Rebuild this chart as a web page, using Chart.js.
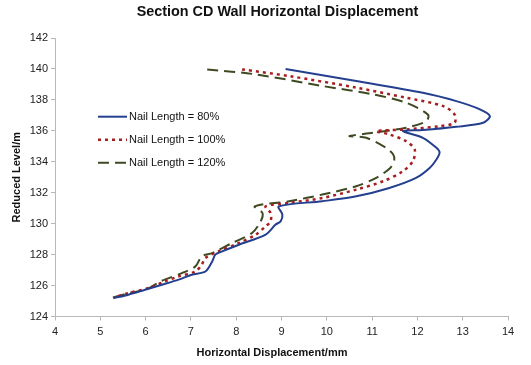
<!DOCTYPE html>
<html>
<head>
<meta charset="utf-8">
<script src="https://cdn.jsdelivr.net/npm/chart.js@4/dist/chart.umd.min.js"></script>
<style>
  html, body { margin: 0; padding: 0; background: #fff; }
  #wrap { width: 531px; height: 365px; }
</style>
</head>
<body>
<div id="wrap"><canvas id="c" width="531" height="365"></canvas></div>
<script>
// Wall displacement profiles (displacement in mm vs reduced level in m)
const seriesLabels = ['Nail Length = 80%', 'Nail Length = 100%', 'Nail Length = 120%'];

const disp80 = [9.09, 10.65, 12.12, 12.86, 13.38, 13.60, 13.45, 12.86, 12.12, 11.68, 12.12, 12.42, 12.49, 12.42, 12.27, 11.97, 11.38, 10.65, 9.90, 8.94, 9.02, 8.98, 8.87, 8.65, 8.06, 7.69, 7.54, 7.47, 7.32, 7.02, 6.73, 6.36, 5.99, 5.62, 5.30];
const level80 = [140.0, 139.22, 138.46, 137.92, 137.39, 136.95, 136.52, 136.26, 136.05, 135.98, 135.55, 134.9, 134.6, 134.15, 133.6, 132.96, 132.31, 131.77, 131.45, 131.12, 130.59, 130.15, 129.94, 129.29, 128.64, 128.21, 128.0, 127.56, 126.91, 126.70, 126.38, 126.05, 125.73, 125.41, 125.19];

const disp100 = [8.13, 9.17, 10.65, 11.75, 12.57, 12.82, 12.82, 12.49, 11.75, 11.09, 11.38, 11.75, 11.94, 11.90, 11.68, 11.24, 10.65, 9.90, 9.17, 8.65, 8.76, 8.76, 8.65, 8.43, 8.06, 7.61, 7.32, 7.24, 7.10, 6.73, 6.43, 6.06, 5.62, 5.28];
const level100 = [139.97, 139.54, 138.79, 138.14, 137.6, 137.06, 136.52, 136.3, 136.09, 135.98, 135.77, 135.33, 134.8, 134.04, 133.39, 132.74, 132.2, 131.66, 131.34, 131.12, 130.69, 130.15, 129.83, 129.29, 128.75, 128.21, 127.78, 127.35, 126.91, 126.59, 126.27, 125.84, 125.51, 125.21];

const disp120 = [7.36, 8.43, 9.90, 11.01, 11.75, 12.23, 12.20, 11.75, 11.01, 10.50, 10.87, 11.31, 11.46, 11.49, 11.40, 11.09, 10.65, 9.90, 9.17, 8.41, 8.58, 8.54, 8.35, 7.91, 7.47, 7.24, 7.10, 6.80, 6.36, 5.99, 5.62, 5.24];
const level120 = [139.97, 139.65, 138.90, 138.36, 137.82, 137.06, 136.63, 136.2, 135.87, 135.66, 135.55, 134.9, 134.5, 134.1, 133.6, 132.96, 132.42, 131.88, 131.45, 131.12, 130.69, 130.15, 129.4, 128.75, 128.1, 127.89, 127.24, 126.8, 126.31, 125.73, 125.51, 125.19];

const xTicks = [4, 5, 6, 7, 8, 9, 10, 11, 12, 13, 14];
const yTicks = [124, 126, 128, 130, 132, 134, 136, 138, 140, 142];

const FONT = '"Liberation Sans", Arial, Helvetica, sans-serif';

function toPoints(xs, ys) {
  return xs.map((x, i) => ({ x: x, y: ys[i] }));
}

// Chart title, x-axis caption and the inset legend
const captions = {
  id: 'captions',
  afterDraw(chart) {
    const ctx = chart.ctx;
    ctx.save();
    ctx.fillStyle = '#111';
    ctx.textAlign = 'center';
    ctx.textBaseline = 'middle';
    ctx.font = 'bold 14.4px ' + FONT;
    ctx.fillText('Section CD Wall Horizontal Displacement', 277.5, 12.5);
    ctx.font = 'bold 11px ' + FONT;
    ctx.fillText('Horizontal Displacement/mm', 272, 353);

    ctx.textAlign = 'left';
    ctx.font = '11px ' + FONT;
    chart.data.datasets.forEach((ds, i) => {
      const y = 116.7 + i * 23;
      ctx.save();
      ctx.strokeStyle = ds.borderColor;
      ctx.lineWidth = ds.borderWidth;
      ctx.setLineDash(ds.borderDash || []);
      ctx.beginPath();
      ctx.moveTo(98, y);
      ctx.lineTo(127, y);
      ctx.stroke();
      ctx.restore();
      ctx.fillStyle = '#111';
      ctx.fillText(ds.label, 129, y + 0.5);
    });
    ctx.restore();
  }
};

new Chart(document.getElementById('c'), {
  type: 'scatter',
  data: {
    datasets: [
      {
        label: seriesLabels[0],
        data: toPoints(disp80, level80),
        showLine: true,
        borderColor: '#233F8E',
        borderWidth: 2,
        pointRadius: 0,
        tension: 0.3
      },
      {
        label: seriesLabels[1],
        data: toPoints(disp100, level100),
        showLine: true,
        borderColor: '#A81E1E',
        borderWidth: 2.5,
        borderDash: [3, 4],
        pointRadius: 0,
        tension: 0.3
      },
      {
        label: seriesLabels[2],
        data: toPoints(disp120, level120),
        showLine: true,
        borderColor: '#3E4A22',
        borderWidth: 2,
        borderDash: [11, 6],
        pointRadius: 0,
        tension: 0.3
      }
    ]
  },
  options: {
    responsive: false,
    animation: false,
    events: [],
    layout: { padding: { top: 38, right: 23, left: 0, bottom: 0 } },
    plugins: {
      legend: { display: false },
      title: { display: false },
      tooltip: { enabled: false }
    },
    scales: {
      x: {
        type: 'linear',
        min: xTicks[0],
        max: xTicks[xTicks.length - 1],
        afterBuildTicks: (scale) => { scale.ticks = xTicks.map(v => ({ value: v })); },
        afterFit: (scale) => { scale.height = 48.5; },
        grid: { drawOnChartArea: false, drawTicks: true, tickLength: 4, color: '#b8b8b8' },
        border: { display: true, color: '#b8b8b8', width: 1 },
        ticks: { color: '#222', padding: 4.5, font: { family: FONT, size: 11 }, maxRotation: 0 }
      },
      y: {
        type: 'linear',
        min: yTicks[0],
        max: yTicks[yTicks.length - 1],
        afterBuildTicks: (scale) => { scale.ticks = yTicks.map(v => ({ value: v })); },
        afterFit: (scale) => { scale.width = 55; },
        grid: { drawOnChartArea: false, drawTicks: true, tickLength: 4, color: '#b8b8b8' },
        border: { display: true, color: '#b8b8b8', width: 1 },
        ticks: { color: '#222', padding: 3, font: { family: FONT, size: 11 } },
        title: {
          display: true,
          text: 'Reduced Level/m',
          color: '#111',
          font: { family: FONT, size: 11, weight: 'bold' },
          padding: { top: 10.4, bottom: 0 }
        }
      }
    }
  },
  plugins: [captions]
});
</script>
</body>
</html>
